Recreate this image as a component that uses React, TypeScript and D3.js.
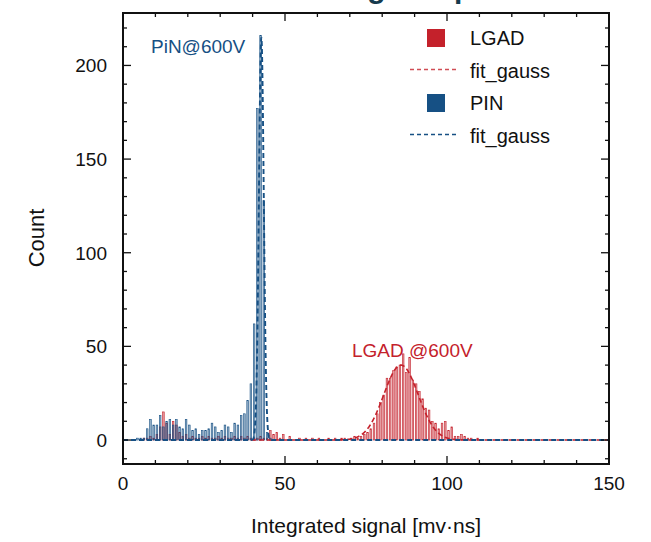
import * as d3 from 'd3';
import React from 'react';

// histogram counts, one bin per 1 mV·ns starting at 0
const pinCounts = [0, 0, 0, 0, 1, 1, 1, 6, 11, 8, 8, 13, 7, 10, 11, 8, 11, 7, 6, 11, 8, 5, 6, 3, 5, 5, 6, 9, 7, 4, 5, 8, 7, 4, 9, 8, 13, 14, 21, 30, 62, 177, 216, 128, 4, 1];
const lgadCounts = [
  0, 0, 0, 0, 0, 0, 1, 1, 2, 1, 3, 7, 15, 9, 3, 10, 8, 4, 2, 3, 1, 2, 1, 1, 2, 1, 2, 1, 1, 2,
  1, 2, 1, 1, 2, 1, 2, 1, 2, 1, 1, 1, 2, 1, 1, 5, 3, 4, 1, 3, 0, 2, 0, 0, 1, 0, 1, 0, 1, 0,
  1, 0, 0, 1, 0, 1, 0, 1, 1, 0, 1, 2, 1, 2, 3, 4, 6, 9, 14, 20, 24, 33, 33, 37, 39, 40, 46, 36, 44, 32,
  30, 26, 22, 17, 16, 10, 9, 6, 9, 10, 5, 7, 2, 2, 3, 2, 1, 1, 0, 1,
];
// gaussian fit parameters [amplitude, mean, sigma]
const pinFit = [215, 42.7, 0.75];
const lgadFit = [40, 85.8, 5.3];

const xTicks = [0, 50, 100, 150];
const yTicks = [0, 50, 100, 150, 200];
const legendItems = ['LGAD', 'fit_gauss', 'PIN', 'fit_gauss'];

const RED = '#c4212b';
const BLUE = '#165084';
const FONT = '"Liberation Sans", Arial, sans-serif';

const plot = { left: 123, right: 609, top: 13, bottom: 464 };
const x = d3.scaleLinear().domain([0, 150]).range([plot.left, plot.right]);
const y = d3.scaleLinear().domain([-12.8, 228]).range([plot.bottom, plot.top]);

function gaussPath(p: number[]) {
  const pts = d3.range(0, 150.01, 0.05).map(v => [v, p[0] * Math.exp(-0.5 * ((v - p[1]) / p[2]) ** 2)]);
  return d3.line<number[]>().x(d => x(d[0])).y(d => y(d[1]))(pts) || '';
}

function Bars({ counts, color }: { counts: number[]; color: string }) {
  const w = x(1) - x(0);
  return (
    <g>
      {counts.map((c, i) => c > 0 && (
        <rect key={i} x={x(i) + 0.7} y={y(c)} width={w - 1.6} height={y(0) - y(c)}
          fill={color} fillOpacity={0.45} stroke={color} strokeWidth={0.6} />
      ))}
    </g>
  );
}

export default function App() {
  const minorX = d3.range(0, 151, 10);
  const minorY = d3.range(-10, 221, 10);
  return (
    <svg width={651} height={542} style={{ position: 'absolute', left: 0, top: 0, background: '#fff' }} fontFamily={FONT}>
      <defs>
        <clipPath id="plotclip">
          <rect x={plot.left} y={plot.top} width={plot.right - plot.left} height={plot.bottom - plot.top} />
        </clipPath>
      </defs>
      {/* title, cropped at the top edge as in the source */}
      <text x={339} y={-2} fontSize={30} fontWeight="bold" fill="#163b4d">Signal spectrum</text>

      <g clipPath="url(#plotclip)">
        <Bars counts={lgadCounts} color={RED} />
        <Bars counts={pinCounts} color={BLUE} />
        <path d={gaussPath(lgadFit)} fill="none" stroke={RED} strokeWidth={1.6} strokeDasharray="5,3" />
        <path d={gaussPath(pinFit)} fill="none" stroke={BLUE} strokeWidth={1.9} strokeDasharray="5,3" />
      </g>

      <text x={151} y={53} fontSize={19} fill={BLUE}>PiN@600V</text>
      <text x={352} y={357} fontSize={19} fill={RED}>LGAD @600V</text>

      {/* legend */}
      {legendItems.map((t, i) => {
        const cy = 38 + i * 32.5;
        const col = i < 2 ? RED : BLUE;
        return (
          <g key={i}>
            {i % 2 === 0
              ? <rect x={427} y={cy - 9} width={18} height={18} fill={col} />
              : <line x1={410} x2={457} y1={cy - 1} y2={cy - 1} stroke={col} strokeWidth={1.3} strokeDasharray="4,3" strokeOpacity={i === 1 ? 0.8 : 1} />}
            <text x={470} y={cy + 7} fontSize={20} fill="#111">{t}</text>
          </g>
        );
      })}

      {/* frame and ticks */}
      <rect x={plot.left} y={plot.top} width={plot.right - plot.left} height={plot.bottom - plot.top}
        fill="none" stroke="#111" strokeWidth={2} />
      {minorX.map(v => {
        const len = v % 50 === 0 ? 8 : 4;
        return (
          <g key={'x' + v} stroke="#111" strokeWidth={1.3}>
            <line x1={x(v)} x2={x(v)} y1={plot.bottom} y2={plot.bottom - len} />
            <line x1={x(v)} x2={x(v)} y1={plot.top} y2={plot.top + len} />
          </g>
        );
      })}
      {minorY.map(v => {
        const len = v % 50 === 0 ? 8 : 4;
        return (
          <g key={'y' + v} stroke="#111" strokeWidth={1.3}>
            <line x1={plot.left} x2={plot.left + len} y1={y(v)} y2={y(v)} />
            <line x1={plot.right} x2={plot.right - len} y1={y(v)} y2={y(v)} />
          </g>
        );
      })}
      {xTicks.map(v => (
        <text key={v} x={x(v)} y={490} fontSize={19} textAnchor="middle" fill="#111">{v}</text>
      ))}
      {yTicks.map(v => (
        <text key={v} x={107} y={y(v) + 7} fontSize={19} textAnchor="end" fill="#111">{v}</text>
      ))}
      <text transform="translate(44,238) rotate(-90)" fontSize={22} textAnchor="middle" fill="#111">Count</text>
      <text x={366} y={533} fontSize={21} textAnchor="middle" fill="#111">Integrated signal [mv·ns]</text>
    </svg>
  );
}
